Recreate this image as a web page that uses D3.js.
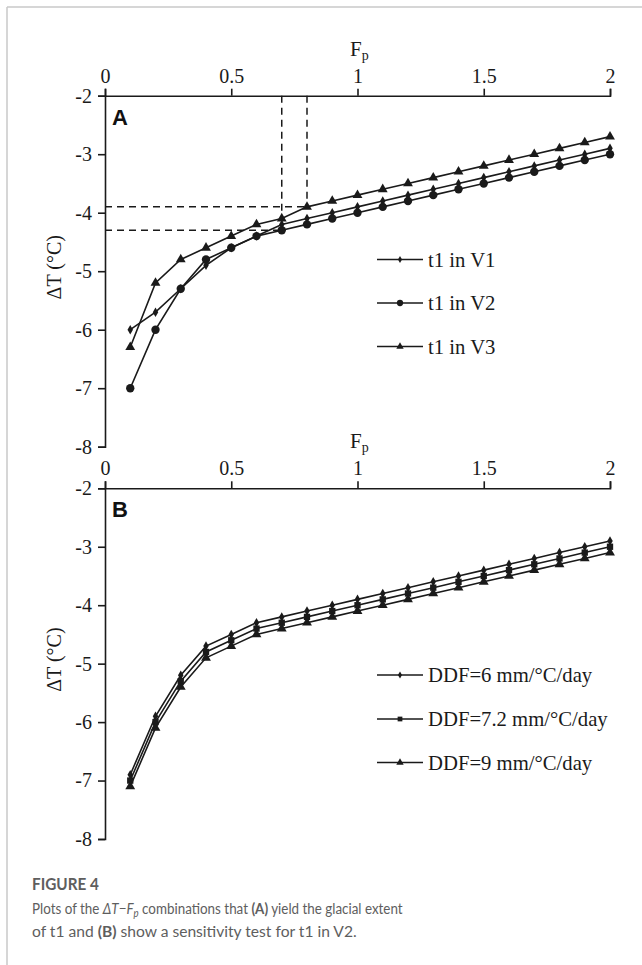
<!DOCTYPE html>
<html>
<head>
<meta charset="utf-8">
<script src="https://cdn.jsdelivr.net/npm/d3@7"></script>
<style>
  html, body { margin: 0; padding: 0; background: #fff; }
  svg { display: block; }
</style>
</head>
<body>
<svg id="fig" width="642" height="965"></svg>
<script>
// Precipitation factor values shared by every series
const fp = [0.1, 0.2, 0.3, 0.4, 0.5, 0.6, 0.7, 0.8, 0.9, 1.0,
            1.1, 1.2, 1.3, 1.4, 1.5, 1.6, 1.7, 1.8, 1.9, 2.0];

// Panel A: temperature change needed for the t1 extent in each valley
const t1V1 = [-6.0, -5.7, -5.3, -4.9, -4.6, -4.4, -4.2, -4.1, -4.0, -3.9,
              -3.8, -3.7, -3.6, -3.5, -3.4, -3.3, -3.2, -3.1, -3.0, -2.9];
const t1V2 = [-7.0, -6.0, -5.3, -4.8, -4.6, -4.4, -4.3, -4.2, -4.1, -4.0,
              -3.9, -3.8, -3.7, -3.6, -3.5, -3.4, -3.3, -3.2, -3.1, -3.0];
const t1V3 = [-6.3, -5.2, -4.8, -4.6, -4.4, -4.2, -4.1, -3.9, -3.8, -3.7,
              -3.6, -3.5, -3.4, -3.3, -3.2, -3.1, -3.0, -2.9, -2.8, -2.7];

// Panel B: sensitivity of t1 in V2 to the degree-day factor
const ddf6  = [-6.9, -5.9, -5.2, -4.7, -4.5, -4.3, -4.2, -4.1, -4.0, -3.9,
               -3.8, -3.7, -3.6, -3.5, -3.4, -3.3, -3.2, -3.1, -3.0, -2.9];
const ddf72 = [-7.0, -6.0, -5.3, -4.8, -4.6, -4.4, -4.3, -4.2, -4.1, -4.0,
               -3.9, -3.8, -3.7, -3.6, -3.5, -3.4, -3.3, -3.2, -3.1, -3.0];
const ddf9  = [-7.1, -6.1, -5.4, -4.9, -4.7, -4.5, -4.4, -4.3, -4.2, -4.1,
               -4.0, -3.9, -3.8, -3.7, -3.6, -3.5, -3.4, -3.3, -3.2, -3.1];

// Axis ticks
const xTicks = [0, 0.5, 1, 1.5, 2];
const yTicks = [-2, -3, -4, -5, -6, -7, -8];

const guideV2 = [0.7, -4.3];
const guideV3 = [0.8, -3.9];

const seriesA = [
  { name: "t1 in V1", values: t1V1, marker: "diamond" },
  { name: "t1 in V2", values: t1V2, marker: "circle" },
  { name: "t1 in V3", values: t1V3, marker: "triangle" }
];
const seriesB = [
  { name: "DDF=6 mm/°C/day",   values: ddf6,  marker: "diamond" },
  { name: "DDF=7.2 mm/°C/day", values: ddf72, marker: "square" },
  { name: "DDF=9 mm/°C/day",   values: ddf9,  marker: "triangle" }
];

const INK = "#1a1a1a";
const SERIF = "'Liberation Serif', 'Times New Roman', serif";
const svg = d3.select("#fig");

// frame rules
svg.append("line").attr("x1", 7).attr("x2", 642).attr("y1", 7).attr("y2", 7)
  .attr("stroke", "#c8c8c8").attr("stroke-width", 1.5);
svg.append("line").attr("x1", 7).attr("x2", 7).attr("y1", 7).attr("y2", 965)
  .attr("stroke", "#c8c8c8").attr("stroke-width", 1.5);

const x = d3.scaleLinear().domain([0, 2]).range([105, 610]);

function markerPath(kind) {
  const sym = {
    diamond: d3.symbol(d3.symbolDiamond, 26),
    circle: d3.symbol(d3.symbolCircle, 55),
    triangle: d3.symbol(d3.symbolTriangle, 42),
    square: d3.symbol(d3.symbolSquare, 40)
  }[kind];
  return sym();
}

function drawPanel(top, bottom, letter, series, legendY, guides) {
  const y = d3.scaleLinear().domain([-2, -8]).range([top, bottom]);
  const g = svg.append("g");

  // top x axis
  const ax = g.append("g").attr("transform", `translate(0,${top})`)
    .call(d3.axisTop(x).tickValues(xTicks).tickSize(7).tickSizeOuter(7)
      .tickPadding(6).tickFormat(d => String(d)));
  // left y axis
  const ay = g.append("g").attr("transform", `translate(${x(0)},0)`)
    .call(d3.axisLeft(y).tickValues(yTicks).tickSize(7).tickSizeOuter(7)
      .tickPadding(6).tickFormat(d => String(d)));
  [ax, ay].forEach(a => {
    a.selectAll("path, line").attr("stroke", INK).attr("stroke-width", 1.6);
    a.selectAll("text").attr("fill", INK).style("font-family", SERIF).style("font-size", "20px");
  });

  // x axis title F_p
  const ft = g.append("text").attr("x", 350).attr("y", top - 40)
    .attr("fill", INK).style("font-family", SERIF).style("font-size", "21px");
  ft.append("tspan").text("F");
  ft.append("tspan").attr("dy", 4).style("font-size", "14px").text("p");

  // y axis title
  g.append("text")
    .attr("transform", `translate(61,${(top + bottom) / 2 - 4}) rotate(-90)`)
    .attr("text-anchor", "middle").attr("fill", INK)
    .style("font-family", SERIF).style("font-size", "20px")
    .text("ΔT (°C)");

  // panel letter
  g.append("text").attr("x", 112).attr("y", top + 29)
    .attr("fill", "#111").style("font-family", "'Liberation Sans', Arial, sans-serif")
    .style("font-weight", "bold").style("font-size", "22px").text(letter);

  // dashed guides
  guides.forEach(([gx, gy]) => {
    g.append("line").attr("x1", x(0)).attr("x2", x(gx)).attr("y1", y(gy)).attr("y2", y(gy))
      .attr("stroke", INK).attr("stroke-width", 1.5).attr("stroke-dasharray", "7,5");
    g.append("line").attr("x1", x(gx)).attr("x2", x(gx)).attr("y1", top).attr("y2", y(gy))
      .attr("stroke", INK).attr("stroke-width", 1.5).attr("stroke-dasharray", "7,5");
  });

  const line = d3.line().x((d, i) => x(fp[i])).y(d => y(d));
  series.forEach(s => {
    g.append("path").datum(s.values).attr("d", line)
      .attr("fill", "none").attr("stroke", INK).attr("stroke-width", 1.6);
    g.append("g").selectAll("path").data(s.values).join("path")
      .attr("transform", (d, i) => `translate(${x(fp[i])},${y(d)})`)
      .attr("d", markerPath(s.marker)).attr("fill", INK);
  });

  // legend
  series.forEach((s, i) => {
    const ly = legendY[i];
    const lg = g.append("g").attr("transform", `translate(0,${ly})`);
    lg.append("line").attr("x1", 377).attr("x2", 423).attr("y1", 0).attr("y2", 0)
      .attr("stroke", INK).attr("stroke-width", 1.5);
    lg.append("path").attr("transform", "translate(400,0) scale(0.75)")
      .attr("d", markerPath(s.marker)).attr("fill", INK);
    lg.append("text").attr("x", 428).attr("y", 7).attr("fill", INK)
      .style("font-family", SERIF).style("font-size", "20.7px").text(s.name);
  });
}

drawPanel(95.7, 446.7, "A", seriesA, [259.5, 303, 346.5], [guideV3, guideV2]);
drawPanel(488.3, 839, "B", seriesB, [675, 719, 762.5], []);

// caption, each line fitted horizontally to its column width
const cap = svg.append("g").style("font-family", "Lato, 'Open Sans', sans-serif").attr("fill", "#5e5e5e");
function fitWidth(sel, width) {
  const w = sel.node().getComputedTextLength();
  sel.attr("transform", `translate(32,0) scale(${width / w},1) translate(-32,0)`);
}
const head = cap.append("text").attr("x", 32).attr("y", 890).style("font-size", "17.5px")
  .style("font-weight", "bold").text("FIGURE 4");
const l1 = cap.append("text").attr("x", 32).attr("y", 914).style("font-size", "16px");
l1.append("tspan").text("Plots of the ");
l1.append("tspan").style("font-style", "italic").text("ΔT−F");
l1.append("tspan").style("font-style", "italic").style("font-size", "11.5px").attr("dy", 3).text("p");
l1.append("tspan").attr("dy", -3).text(" combinations that ");
l1.append("tspan").style("font-weight", "bold").text("(A)");
l1.append("tspan").text(" yield the glacial extent");
const l2 = cap.append("text").attr("x", 32).attr("y", 937).style("font-size", "16px");
l2.append("tspan").text("of t1 and ");
l2.append("tspan").style("font-weight", "bold").text("(B)");
l2.append("tspan").text(" show a sensitivity test for t1 in V2.");
fitWidth(head, 67);
fitWidth(l1, 371);
fitWidth(l2, 325);
</script>
</body>
</html>
